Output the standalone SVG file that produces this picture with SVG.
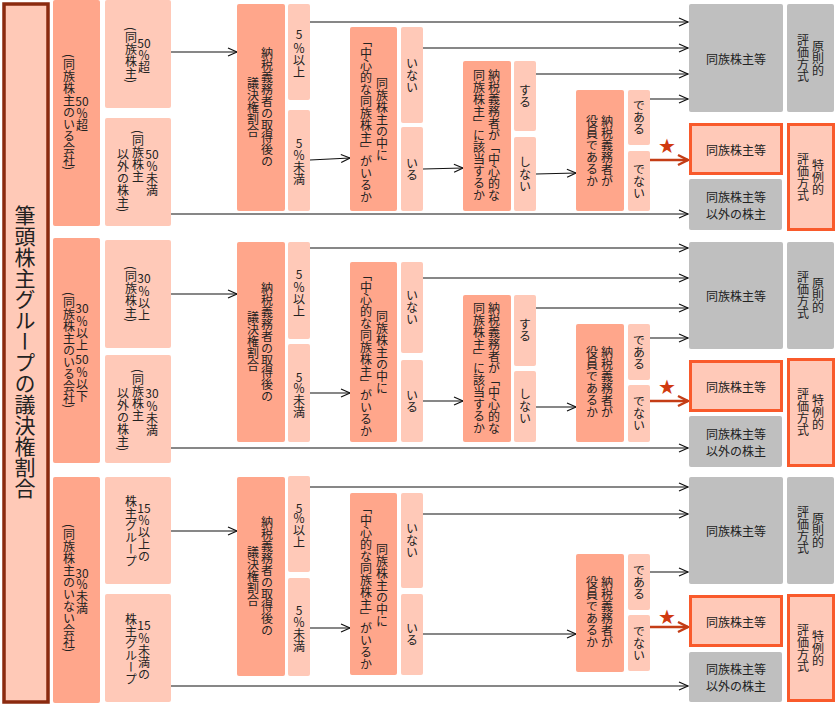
<svg xmlns="http://www.w3.org/2000/svg" width="835" height="705" viewBox="0 0 835 705">
<style>
.d{fill:#FFA68B}
.l{fill:#FFC9B8}
.g{fill:#BFBFBF}
.r{fill:#FFC9B8;stroke:#F95A2B;stroke-width:3}
text{font-family:"Noto Sans CJK JP","Noto Sans CJK SC",sans-serif;font-size:12px;fill:#222}
.v{writing-mode:vertical-rl;text-anchor:middle}
.vs{writing-mode:vertical-rl;text-anchor:start}
.h{text-anchor:middle;dominant-baseline:central}
.c{fill:none;stroke:#111;stroke-width:1.2;marker-end:url(#ab)}
.cr{fill:none;stroke:#C43D16;stroke-width:2.5;marker-end:url(#ar)}
.st{font-family:"DejaVu Sans",sans-serif;font-size:20px;fill:#D03A10;text-anchor:middle;dominant-baseline:central}
</style>
<defs>
<marker id="ab" markerUnits="userSpaceOnUse" markerWidth="12" markerHeight="12" refX="10" refY="6" orient="auto" viewBox="0 0 12 12"><path d="M1,2 L10,6 L1,10" fill="none" stroke="#111" stroke-width="1.2"/></marker>
<marker id="ar" markerUnits="userSpaceOnUse" markerWidth="14" markerHeight="14" refX="11" refY="7" orient="auto" viewBox="0 0 14 14"><path d="M1,2 L11,7 L1,12" fill="none" stroke="#C43D16" stroke-width="2.5"/></marker>
</defs>

<g id="title">
<rect x="4" y="4" width="44" height="698" fill="#FFC9B7" stroke="#8B2A0F" stroke-width="3.5"/>
<text class="v" x="25" y="352" style="font-size:21px">筆頭株主グループの議決権割合</text>
</g>

<g id="connectors">
<path class="c" d="M171,52H237"/>
<path class="c" d="M310,22H688"/>
<path class="c" d="M423,48H688"/>
<path class="c" d="M536,74H688"/>
<path class="c" d="M650,99H688"/>
<path class="c" d="M310,160L350,158"/>
<path class="c" d="M423,169L463,168"/>
<path class="c" d="M536,174L576,173"/>
<path class="cr" d="M650,160H688"/>
<path class="c" d="M171,214H688"/>

<path class="c" d="M171,294H237"/>
<path class="c" d="M310,248H688"/>
<path class="c" d="M423,278H688"/>
<path class="c" d="M536,308H688"/>
<path class="c" d="M650,338H688"/>
<path class="c" d="M310,393H350"/>
<path class="c" d="M423,401H463"/>
<path class="c" d="M536,407H576"/>
<path class="cr" d="M650,401H688"/>
<path class="c" d="M171,448H688"/>

<path class="c" d="M171,531H237"/>
<path class="c" d="M310,487H688"/>
<path class="c" d="M423,514H688"/>
<path class="c" d="M650,572H688"/>
<path class="c" d="M310,628H350"/>
<path class="c" d="M423,634H576"/>
<path class="cr" d="M650,627H688"/>
<path class="c" d="M171,686H688"/>
<text class="st" x="667" y="146">★</text>
<text class="st" x="667" y="387">★</text>
<text class="st" x="667" y="617">★</text>
</g>

<!-- Section 1 -->
<g id="s1-company">
<rect class="d" x="53" y="0" width="47" height="226" rx="2"/>
<text class="v" x="69" y="112">(同族株主のいる会社)</text>
<text class="h" x="82" y="100">50</text>
<text class="vs" x="82" y="107">％超</text>
</g>
<g id="s1-over50">
<rect class="l" x="105" y="0" width="66" height="108" rx="2"/>
<text class="v" x="131" y="55">(同族株主)</text>
<text class="h" x="144" y="42">50</text>
<text class="vs" x="144" y="49">％超</text>
</g>
<g id="s1-under50">
<rect class="l" x="105" y="118" width="66" height="108" rx="2"/>
<text class="h" x="152" y="153">50</text>
<text class="vs" x="152" y="160">％未満</text>
<text class="vs" x="138" y="130">(同族株主</text>
<text class="vs" x="123" y="148">以外の株主)</text>
</g>
<g id="s1-ratio">
<rect class="d" x="237" y="4" width="48" height="207" rx="2"/>
<text class="v" x="267" y="107">納税義務者の取得後の</text>
<text class="v" x="253" y="107">議決権割合</text>
</g>
<g id="s1-5over">
<rect class="l" x="288" y="4" width="22" height="96" rx="2"/>
<text class="h" x="299" y="33">5</text>
<text class="vs" x="299" y="42">％以上</text>
</g>
<g id="s1-5under">
<rect class="l" x="288" y="110" width="22" height="101" rx="2"/>
<text class="h" x="299" y="142">5</text>
<text class="vs" x="299" y="149">％未満</text>
</g>
<g id="s1-central">
<rect class="d" x="350" y="27" width="47" height="184" rx="2"/>
<text class="v" x="382" y="119">同族株主の中に</text>
<text class="v" x="366" y="119">「中心的な同族株主」がいるか</text>
</g>
<g id="s1-inai">
<rect class="l" x="401" y="27" width="22" height="96" rx="2"/>
<text class="v" x="412" y="75">いない</text>
</g>
<g id="s1-iru">
<rect class="l" x="401" y="127" width="22" height="84" rx="2"/>
<text class="v" x="412" y="169">いる</text>
</g>
<g id="s1-gaitou">
<rect class="d" x="463" y="61" width="48" height="150" rx="2"/>
<text class="v" x="494" y="135">納税義務者が「中心的な</text>
<text class="v" x="479" y="135">同族株主」に該当するか</text>
</g>
<g id="s1-suru">
<rect class="l" x="514" y="61" width="22" height="70" rx="2"/>
<text class="v" x="525" y="96">する</text>
</g>
<g id="s1-shinai">
<rect class="l" x="514" y="137" width="22" height="74" rx="2"/>
<text class="v" x="525" y="174">しない</text>
</g>
<g id="s1-yakuin">
<rect class="d" x="576" y="90" width="48" height="121" rx="2"/>
<text class="v" x="607" y="151">納税義務者が</text>
<text class="v" x="592" y="151">役員であるか</text>
</g>
<g id="s1-dearu">
<rect class="l" x="628" y="90" width="22" height="55" rx="2"/>
<text class="v" x="639" y="117">である</text>
</g>
<g id="s1-denai">
<rect class="l" x="628" y="151" width="22" height="60" rx="2"/>
<text class="v" x="639" y="181">でない</text>
</g>
<g id="s1-dozoku">
<rect class="g" x="689" y="4" width="94" height="108" rx="2"/>
<text class="h" x="736" y="58">同族株主等</text>
</g>
<g id="s1-gensoku">
<rect class="g" x="787" y="4" width="47" height="108" rx="2"/>
<text class="v" x="818" y="58">原則的</text>
<text class="v" x="803" y="58">評価方式</text>
</g>
<g id="s1-dozoku-red">
<rect class="r" x="690.5" y="124.5" width="91" height="49"/>
<text class="h" x="736" y="149">同族株主等</text>
</g>
<g id="s1-tokurei">
<rect class="r" x="788.5" y="124.5" width="45" height="105"/>
<text class="v" x="818" y="177">特例的</text>
<text class="v" x="803" y="177">評価方式</text>
</g>
<g id="s1-other">
<rect class="g" x="689" y="179" width="93" height="51" rx="2"/>
<text class="h" x="736" y="196.5">同族株主等</text>
<text class="h" x="736" y="213">以外の株主</text>
</g>

<!-- Section 2 -->
<g id="s2-company">
<rect class="d" x="53" y="238" width="47" height="225" rx="2"/>
<text class="v" x="69" y="350">(同族株主のいる会社)</text>
<text class="h" x="82" y="307">30</text>
<text class="vs" x="82" y="315">％以上</text>
<text class="h" x="82" y="358">50</text>
<text class="vs" x="82" y="366">％以下</text>
</g>
<g id="s2-over30">
<rect class="l" x="105" y="240" width="66" height="108" rx="2"/>
<text class="v" x="131" y="294">(同族株主)</text>
<text class="h" x="144" y="277">30</text>
<text class="vs" x="144" y="285">％以上</text>
</g>
<g id="s2-under30">
<rect class="l" x="105" y="355" width="66" height="108" rx="2"/>
<text class="h" x="152" y="392">30</text>
<text class="vs" x="152" y="400">％未満</text>
<text class="vs" x="138" y="369">(同族株主</text>
<text class="vs" x="123" y="387">以外の株主)</text>
</g>
<g id="s2-ratio">
<rect class="d" x="237" y="242" width="48" height="200" rx="2"/>
<text class="v" x="267" y="342">納税義務者の取得後の</text>
<text class="v" x="253" y="341">議決権割合</text>
</g>
<g id="s2-5over">
<rect class="l" x="288" y="242" width="22" height="97" rx="2"/>
<text class="h" x="299" y="273">5</text>
<text class="vs" x="299" y="281">％以上</text>
</g>
<g id="s2-5under">
<rect class="l" x="288" y="344" width="22" height="98" rx="2"/>
<text class="h" x="299" y="376">5</text>
<text class="vs" x="299" y="382">％未満</text>
</g>
<g id="s2-central">
<rect class="d" x="350" y="262" width="47" height="180" rx="2"/>
<text class="v" x="382" y="352">同族株主の中に</text>
<text class="v" x="366" y="353">「中心的な同族株主」がいるか</text>
</g>
<g id="s2-inai">
<rect class="l" x="401" y="262" width="22" height="91" rx="2"/>
<text class="v" x="412" y="307.5">いない</text>
</g>
<g id="s2-iru">
<rect class="l" x="401" y="360" width="22" height="82" rx="2"/>
<text class="v" x="412" y="401">いる</text>
</g>
<g id="s2-gaitou">
<rect class="d" x="463" y="295" width="48" height="147" rx="2"/>
<text class="v" x="494" y="368">納税義務者が「中心的な</text>
<text class="v" x="479" y="368">同族株主」に該当するか</text>
</g>
<g id="s2-suru">
<rect class="l" x="514" y="295" width="22" height="71" rx="2"/>
<text class="v" x="525" y="330.5">する</text>
</g>
<g id="s2-shinai">
<rect class="l" x="514" y="371" width="22" height="71" rx="2"/>
<text class="v" x="525" y="406.5">しない</text>
</g>
<g id="s2-yakuin">
<rect class="d" x="576" y="324" width="48" height="118" rx="2"/>
<text class="v" x="607" y="382">納税義務者が</text>
<text class="v" x="592" y="382">役員であるか</text>
</g>
<g id="s2-dearu">
<rect class="l" x="628" y="324" width="22" height="56" rx="2"/>
<text class="v" x="639" y="352">である</text>
</g>
<g id="s2-denai">
<rect class="l" x="628" y="385" width="22" height="57" rx="2"/>
<text class="v" x="639" y="413.5">でない</text>
</g>
<g id="s2-dozoku">
<rect class="g" x="689" y="242" width="94" height="107" rx="2"/>
<text class="h" x="736" y="295.5">同族株主等</text>
</g>
<g id="s2-gensoku">
<rect class="g" x="787" y="242" width="47" height="107" rx="2"/>
<text class="v" x="818" y="295.5">原則的</text>
<text class="v" x="803" y="295.5">評価方式</text>
</g>
<g id="s2-dozoku-red">
<rect class="r" x="690.5" y="361.5" width="91" height="49"/>
<text class="h" x="736" y="386">同族株主等</text>
</g>
<g id="s2-tokurei">
<rect class="r" x="788.5" y="359.5" width="45" height="106"/>
<text class="v" x="818" y="412.5">特例的</text>
<text class="v" x="803" y="412.5">評価方式</text>
</g>
<g id="s2-other">
<rect class="g" x="689" y="416" width="93" height="51" rx="2"/>
<text class="h" x="736" y="433.5">同族株主等</text>
<text class="h" x="736" y="450">以外の株主</text>
</g>

<!-- Section 3 -->
<g id="s3-company">
<rect class="d" x="53" y="477" width="47" height="226" rx="2"/>
<text class="v" x="69" y="588">(同族株主のいない会社)</text>
<text class="h" x="82" y="572">30</text>
<text class="vs" x="82" y="578">％未満</text>
</g>
<g id="s3-over15">
<rect class="l" x="105" y="477" width="66" height="107" rx="2"/>
<text class="h" x="144" y="507">15</text>
<text class="vs" x="144" y="514">％以上の</text>
<text class="vs" x="131" y="495">株主グループ</text>
</g>
<g id="s3-under15">
<rect class="l" x="105" y="594" width="66" height="108" rx="2"/>
<text class="h" x="144" y="624">15</text>
<text class="vs" x="144" y="632">％未満の</text>
<text class="vs" x="131" y="613">株主グループ</text>
</g>
<g id="s3-ratio">
<rect class="d" x="237" y="477" width="48" height="199" rx="2"/>
<text class="v" x="267" y="576">納税義務者の取得後の</text>
<text class="v" x="253" y="576">議決権割合</text>
</g>
<g id="s3-5over">
<rect class="l" x="288" y="476" width="22" height="96" rx="2"/>
<text class="h" x="299" y="507">5</text>
<text class="vs" x="299" y="512">％以上</text>
</g>
<g id="s3-5under">
<rect class="l" x="288" y="578" width="22" height="98" rx="2"/>
<text class="h" x="299" y="609">5</text>
<text class="vs" x="299" y="616">％未満</text>
</g>
<g id="s3-central">
<rect class="d" x="350" y="493" width="47" height="182" rx="2"/>
<text class="v" x="382" y="585">同族株主の中に</text>
<text class="v" x="366" y="586">「中心的な同族株主」がいるか</text>
</g>
<g id="s3-inai">
<rect class="l" x="401" y="493" width="22" height="95" rx="2"/>
<text class="v" x="412" y="540.5">いない</text>
</g>
<g id="s3-iru">
<rect class="l" x="401" y="594" width="22" height="81" rx="2"/>
<text class="v" x="412" y="634.5">いる</text>
</g>
<g id="s3-yakuin">
<rect class="d" x="576" y="554" width="48" height="118" rx="2"/>
<text class="v" x="607" y="612">納税義務者が</text>
<text class="v" x="592" y="612">役員であるか</text>
</g>
<g id="s3-dearu">
<rect class="l" x="628" y="554" width="22" height="56" rx="2"/>
<text class="v" x="639" y="582">である</text>
</g>
<g id="s3-denai">
<rect class="l" x="628" y="615" width="22" height="56" rx="2"/>
<text class="v" x="639" y="643">でない</text>
</g>
<g id="s3-dozoku">
<rect class="g" x="689" y="477" width="94" height="107" rx="2"/>
<text class="h" x="736" y="530.5">同族株主等</text>
</g>
<g id="s3-gensoku">
<rect class="g" x="787" y="477" width="47" height="107" rx="2"/>
<text class="v" x="818" y="530.5">原則的</text>
<text class="v" x="803" y="530.5">評価方式</text>
</g>
<g id="s3-dozoku-red">
<rect class="r" x="690.5" y="596.5" width="91" height="49"/>
<text class="h" x="736" y="621">同族株主等</text>
</g>
<g id="s3-tokurei">
<rect class="r" x="788.5" y="595.5" width="45" height="105"/>
<text class="v" x="818" y="648">特例的</text>
<text class="v" x="803" y="648">評価方式</text>
</g>
<g id="s3-other">
<rect class="g" x="689" y="652" width="93" height="50" rx="2"/>
<text class="h" x="736" y="668.5">同族株主等</text>
<text class="h" x="736" y="685">以外の株主</text>
</g>
</svg>
